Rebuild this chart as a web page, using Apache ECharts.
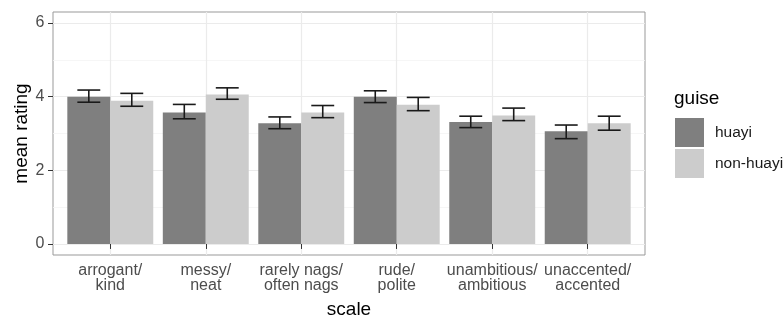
<!DOCTYPE html>
<html>
<head>
<meta charset="utf-8">
<script src="https://cdn.jsdelivr.net/npm/echarts@6/dist/echarts.min.js"></script>
<style>
  html, body { margin: 0; padding: 0; background: #fff; }
  #chart { width: 784px; height: 316px; }
</style>
</head>
<body>
<div id="chart"></div>
<script>
// rating scales on x, two guises per scale
const categories = ['arrogant/\nkind', 'messy/\nneat', 'rarely nags/\noften nags', 'rude/\npolite', 'unambitious/\nambitious', 'unaccented/\naccented'];
const catPos = [1, 2, 3, 4, 5, 6];

const huayiMean = [4.00, 3.57, 3.28, 4.00, 3.31, 3.06];
const huayiLow  = [3.85, 3.40, 3.13, 3.84, 3.16, 2.86];
const huayiHigh = [4.18, 3.79, 3.45, 4.16, 3.47, 3.23];

const nonMean = [3.89, 4.06, 3.57, 3.78, 3.49, 3.28];
const nonLow  = [3.74, 3.93, 3.43, 3.62, 3.35, 3.09];
const nonHigh = [4.09, 4.24, 3.76, 3.98, 3.69, 3.47];

const yMajor = [0, 2, 4, 6];
const yMinor = [1, 3, 5];

const BAR_W = 0.45;
const CAP_W = 0.24;

let chart = echarts.init(document.getElementById('chart'));

function barSeries(name, color, means, offset) {
    return {
        name: name,
        type: 'custom',
        itemStyle: { color: color },
        data: catPos.map((c, i) => [c, means[i]]),
        renderItem: function (params, api) {
            let x = api.value(0) + offset;
            let top = api.coord([x - BAR_W / 2, api.value(1)]);
            let bot = api.coord([x + BAR_W / 2, 0]);
            return {
                type: 'rect',
                shape: { x: top[0], y: top[1], width: bot[0] - top[0], height: bot[1] - top[1] },
                style: { fill: color }
            };
        },
        z: 2
    };
}

function errSeries(low, high, offset) {
    return {
        type: 'custom',
        silent: true,
        data: catPos.map((c, i) => [c, low[i], high[i]]),
        renderItem: function (params, api) {
            let x = api.value(0) + offset;
            let lo = api.coord([x, api.value(1)]);
            let hi = api.coord([x, api.value(2)]);
            let half = api.size([CAP_W, 0])[0] / 2;
            let st = { stroke: '#1a1a1a', lineWidth: 1.6 };
            return {
                type: 'group',
                children: [
                    { type: 'line', shape: { x1: lo[0], y1: lo[1], x2: hi[0], y2: hi[1] }, style: st },
                    { type: 'line', shape: { x1: lo[0] - half, y1: lo[1], x2: lo[0] + half, y2: lo[1] }, style: st },
                    { type: 'line', shape: { x1: hi[0] - half, y1: hi[1], x2: hi[0] + half, y2: hi[1] }, style: st }
                ]
            };
        },
        z: 3
    };
}

let option = {
    animation: false,
    textStyle: { fontFamily: 'Liberation Sans, Arial, sans-serif' },
    grid: {
        left: 53, right: 139, top: 12, bottom: 61,
        outerBoundsMode: 'none',
        containLabel: false,
        show: true, borderColor: '#999', borderWidth: 1, backgroundColor: '#fff'
    },
    title: {
        text: 'guise',
        left: 674, top: 89,
        padding: 0,
        textStyle: { fontSize: 19, fontWeight: 'normal', color: '#000', fontFamily: 'Liberation Sans, Arial, sans-serif' }
    },
    legend: {
        orient: 'vertical',
        left: 675, top: 118,
        padding: 0,
        icon: 'rect',
        itemWidth: 29, itemHeight: 29, itemGap: 2,
        data: ['huayi', 'non-huayi'],
        textStyle: { fontSize: 15.5, color: '#1a1a1a', padding: [0, 0, 0, 6] }
    },
    xAxis: {
        type: 'value',
        min: 0.4, max: 6.6,
        name: 'scale',
        nameLocation: 'middle',
        nameGap: 45,
        nameTextStyle: { fontSize: 19, color: '#000' },
        axisLine: { show: false },
        axisTick: { show: true, length: 5, customValues: catPos, lineStyle: { color: '#333' } },
        axisLabel: {
            customValues: catPos,
            margin: 8.5,
            fontSize: 16,
            lineHeight: 15,
            color: '#4d4d4d',
            formatter: v => categories[Math.round(v) - 1] || ''
        },
        splitLine: { show: true, lineStyle: { color: '#ebebeb', width: 1.2 } }
    },
    yAxis: [{
        type: 'value',
        min: -0.3, max: 6.3,
        name: 'mean rating',
        nameLocation: 'middle',
        nameGap: 22,
        nameMoveOverlap: false,
        nameTextStyle: { fontSize: 19, color: '#000' },
        axisLine: { show: false },
        axisTick: { show: true, length: 5, customValues: yMajor, lineStyle: { color: '#333' } },
        axisLabel: { customValues: yMajor, margin: 8.5, fontSize: 16, color: '#4d4d4d' },
        splitLine: { show: true, lineStyle: { color: '#ebebeb', width: 1.2 } }
    }, {
        type: 'value',
        min: -0.3, max: 6.3,
        position: 'left',
        axisLine: { show: false },
        axisTick: { show: false, customValues: yMinor },
        axisLabel: { show: false, customValues: yMinor },
        splitLine: { show: true, lineStyle: { color: '#f4f4f4', width: 0.8 } }
    }],
    series: [
        barSeries('huayi', '#7f7f7f', huayiMean, -BAR_W / 2),
        barSeries('non-huayi', '#cccccc', nonMean, BAR_W / 2),
        errSeries(huayiLow, huayiHigh, -BAR_W / 2),
        errSeries(nonLow, nonHigh, BAR_W / 2)
    ]
};

chart.setOption(option);
</script>
</body>
</html>
